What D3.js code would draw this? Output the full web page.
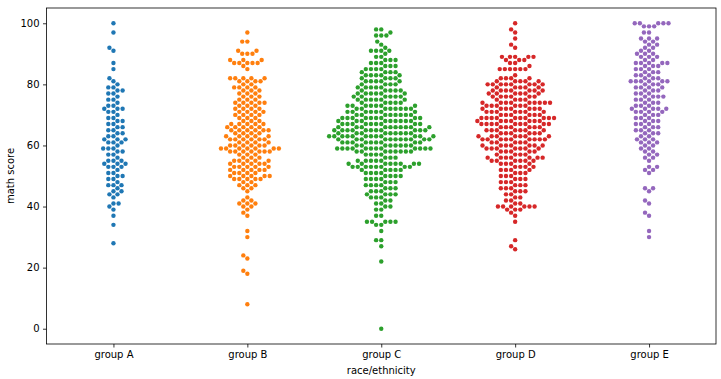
<!DOCTYPE html>
<html><head><meta charset="utf-8">
<script src="https://cdn.jsdelivr.net/npm/d3@7"></script>
<style>body{margin:0;background:#fff}svg{display:block}text{font-family:"DejaVu Sans",sans-serif}</style>
</head><body>
<svg id="chart" width="721" height="379"></svg>
<script>
const categories = ["group A","group B","group C","group D","group E"];
const colors = ["#1f77b4","#ff7f0e","#2ca02c","#d62728","#9467bd"];
const yTicks = [0,20,40,60,80,100];
// [score, number of students]
const groupA = [[100,1],[97,1],[92,1],[91,1],[87,1],[85,1],[82,1],[81,1],[80,1],
 [79,2],[78,2],[77,2],[76,1],[75,2],[74,1],[73,2],[72,3],[71,2],[70,1],
 [69,2],[68,2],[67,2],[66,2],[65,2],[64,2],[63,2],[62,3],[61,3],[60,1],
 [59,3],[58,2],[57,2],[56,1],[55,3],[54,3],[53,3],[52,1],[51,2],[50,2],
 [49,2],[48,1],[47,3],[46,1],[45,2],[44,2],[43,1],[41,2],[40,1],[39,1],[37,1],[34,1],[28,1]];
const groupB = [[97,1],[94,2],[91,2],[90,3],[88,3],[87,5],[86,1],[85,1],[82,5],[81,4],[80,2],[79,4],
 [78,3],[77,3],[76,3],[75,3],[74,5],[73,3],[72,4],[71,4],[70,4],
 [69,3],[68,3],[67,5],[66,5],[65,6],[64,4],[63,5],[62,6],[61,4],[60,6],
 [59,7],[58,7],[57,3],[56,3],[55,5],[54,5],[53,5],[52,5],[51,4],[50,5],
 [49,5],[48,2],[47,3],[46,2],[45,1],[43,1],[42,2],[41,3],[40,2],
 [39,1],[38,1],[37,1],[32,1],[30,1],[24,1],[23,1],[19,1],[18,1],[8,1]];
const groupC = [[98,2],[97,1],[96,3],[94,1],[93,1],[92,1],[91,4],[90,1],
 [89,2],[88,3],[87,3],[86,3],[85,4],[84,4],[83,5],[82,4],[81,5],[80,4],
 [79,5],[78,5],[77,6],[76,6],[75,6],[74,5],[73,7],[72,8],[71,7],[70,8],
 [69,9],[68,9],[67,9],[66,10],[65,11],[64,9],[63,12],[62,11],[61,9],[60,8],
 [59,12],[58,8],[57,4],[56,3],[55,5],[54,8],[53,8],[52,5],[51,4],[50,4],
 [49,4],[48,3],[47,4],[46,3],[45,3],[44,4],[43,3],[42,2],[41,2],[40,2],[39,2],
 [37,2],[35,5],[34,2],[32,1],[29,2],[27,1],[22,1],[0,1]];
const groupD = [[100,1],[98,1],[97,1],[95,1],[93,1],[92,1],
 [89,5],[88,3],[87,2],[86,1],[85,6],[83,1],[82,4],[81,5],[80,8],
 [79,5],[78,7],[77,6],[76,6],[75,4],[74,9],[73,6],[72,7],[71,7],[70,6],
 [69,10],[68,7],[67,9],[66,6],[65,7],[64,6],[63,7],[62,9],[61,5],[60,7],
 [59,7],[58,5],[57,4],[56,7],[55,6],[54,4],[53,4],[52,4],[51,3],[50,3],
 [49,3],[48,3],[47,3],[46,3],[45,3],[44,2],[43,2],[42,2],[41,2],[40,6],[39,3],[38,1],[37,1],
 [35,1],[29,1],[27,1],[26,1]];
const groupE = [[100,5],[99,3],[97,2],[95,3],[94,2],[93,2],[92,2],[91,2],[90,3],
 [89,3],[88,2],[87,5],[86,3],[85,3],[84,3],[83,3],[82,3],[81,6],[80,3],
 [79,4],[78,3],[77,3],[76,4],[75,3],[74,3],[73,3],[72,5],[71,4],[70,3],
 [69,3],[68,3],[67,3],[66,3],[65,3],[64,3],[63,2],[62,3],[61,3],[60,2],
 [59,2],[58,2],[57,2],[56,2],[55,1],[53,2],[52,2],[51,1],[46,2],[45,1],[42,1],[41,1],[38,1],[37,1],[32,1],[30,1]];
const groups = [groupA,groupB,groupC,groupD,groupE];

const svg = d3.select("#chart");
const L=46.5, R=716, T=8, B=344;
const x = d3.scaleLinear().domain([-0.5,4.5]).range([L,R]);
const y = d3.scaleLinear().domain([-5,105]).range([B,T]);
const r = 2.45;      // layout radius
const rDraw = 2.2;   // drawn radius

function beeswarm(vals, mid){
  const pts = vals.map(v=>({v, x:mid, y:y(v)})).sort((a,b)=>a.v-b.v);
  const swarm=[];
  pts.forEach((p,i)=>{
    if(i===0){swarm.push(p);return;}
    const nb=[];
    for(let j=swarm.length-1;j>=0;j--){
      const dy=Math.abs(p.y-swarm[j].y);
      if(dy<2*r) nb.push(swarm[j]); else break;
    }
    let cands=[{x:mid,o:0,k:0}];
    let leftFirst=true;
    nb.forEach(q=>{
      const dy=p.y-q.y;
      const dx=Math.sqrt(Math.max(4*r*r-dy*dy,0))*1.05;
      const cl=q.x-dx, cr=q.x+dx;
      const arr= leftFirst?[cl,cr]:[cr,cl];
      arr.forEach(cx=>cands.push({x:cx,o:Math.abs(cx-mid),k:cands.length}));
      leftFirst=!leftFirst;
    });
    cands.sort((a,b)=>a.o-b.o||a.k-b.k);
    let chosen=cands[0].x;
    for(const c of cands){
      let ok=true;
      for(const q of nb){
        const ddx=q.x-c.x, ddy=q.y-p.y;
        if(ddx*ddx+ddy*ddy < 4*r*r-1e-9){ok=false;break;}
      }
      if(ok){chosen=c.x;break;}
    }
    p.x=chosen; swarm.push(p);
  });
  return swarm;
}

groups.forEach((g,gi)=>{
  const vals=[];
  g.forEach(([s,c])=>{for(let k=0;k<c;k++) vals.push(s);});
  const pts=beeswarm(vals,x(gi));
  svg.append("g").selectAll("circle").data(pts).join("circle")
    .attr("cx",d=>d.x).attr("cy",d=>d.y).attr("r",rDraw).attr("fill",colors[gi]);
});

// axes
const yAx = svg.append("g").attr("transform",`translate(${L},0)`)
  .call(d3.axisLeft(y).tickValues(yTicks).tickSize(3.5).tickPadding(3.5));
const xAx = svg.append("g").attr("transform",`translate(0,${B})`)
  .call(d3.axisBottom(x).tickValues([0,1,2,3,4]).tickFormat(i=>categories[i]).tickSize(3.5).tickPadding(3.5));
[yAx,xAx].forEach(a=>{
  a.select(".domain").remove();
  a.selectAll("text").attr("font-size","10px").attr("font-family","DejaVu Sans").attr("fill","#000");
  a.selectAll("line").attr("stroke","#000").attr("stroke-width",0.8);
});
svg.append("rect").attr("x",L).attr("y",T).attr("width",R-L).attr("height",B-T)
  .attr("fill","none").attr("stroke","#000").attr("stroke-width",0.8);
svg.append("text").attr("x",(L+R)/2).attr("y",374).attr("text-anchor","middle")
  .attr("font-size","10px").text("race/ethnicity");
svg.append("text").attr("transform",`translate(14,${(T+B)/2}) rotate(-90)`).attr("text-anchor","middle")
  .attr("font-size","10px").text("math score");
</script>
</body></html>
